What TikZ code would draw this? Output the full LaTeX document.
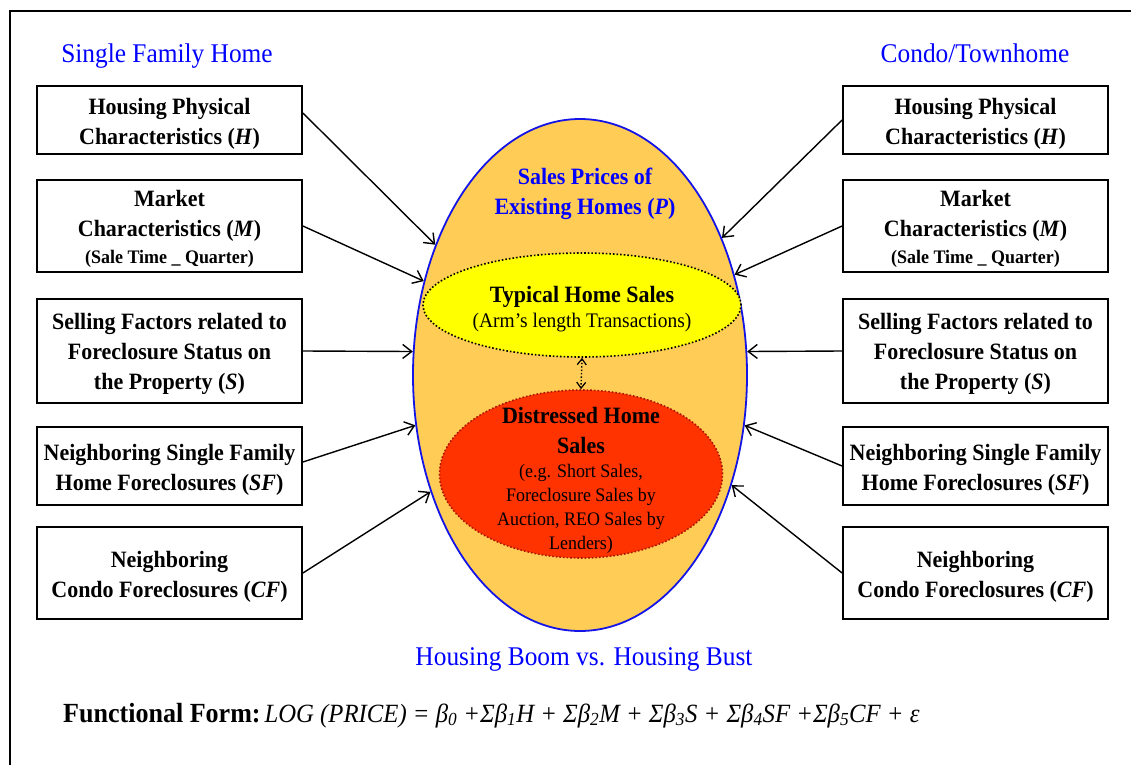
\documentclass[tikz,border=0pt]{standalone}
\usepackage{fontspec}
\setmainfont[FakeStretch=0.94]{Liberation Serif}
\usetikzlibrary{shapes.geometric,arrows.meta}
\definecolor{headblue}{RGB}{0,0,255}
\definecolor{ringblue}{RGB}{20,20,230}
\definecolor{shellfill}{RGB}{255,204,85}
\definecolor{typyellow}{RGB}{255,255,0}
\definecolor{distred}{RGB}{255,51,0}
\definecolor{distedge}{RGB}{170,20,0}
% extra room above the first line of a factor box
\newcommand\padtop{\rule{0pt}{23pt}}
\begin{document}
\begin{tikzpicture}[x=1pt,y=-1pt,
  factor/.style={draw=black, line width=1.8pt, fill=white, minimum width=265pt,
    align=center, inner sep=0pt, font=\bfseries\fontsize{23.4}{30}\selectfont},
  link/.style={line width=1.4pt, -{Straight Barb[length=9pt,width=14pt,line width=1.4pt]}},
  heading/.style={text=headblue, font=\fontsize{27}{30}\selectfont, anchor=base},
  bigtext/.style={font=\bfseries\fontsize{23.4}{30}\selectfont, align=center},
  smalltext/.style={font=\fontsize{19.1}{24}\selectfont, align=center}
]
\useasboundingbox (0,0) rectangle (1131,765);
% frame edges
\draw[line width=2.5pt] (10,765) -- (10,11) -- (1131,11);

% headings
\node[heading] (hsf) at (167,63) {Single Family Home};
\node[heading] (hct) at (975,63) {Condo/Townhome};
\node[heading] (hbb) at (584,665) {Housing Boom vs. Housing Bust};

% central price ellipse and its two sub-markets
\node[ellipse, draw=ringblue, line width=1.8pt, fill=shellfill, minimum width=334pt,
  minimum height=512pt, inner sep=0pt] (shell) at (580,375) {};
\node[ellipse, draw=black, dotted, line width=1.6pt, fill=typyellow, minimum width=318pt,
  minimum height=104pt, inner sep=0pt] (typical) at (582,305) {};
\node[ellipse, draw=distedge, dotted, line width=1.6pt, fill=distred, minimum width=283pt,
  minimum height=168pt, inner sep=0pt] (distress) at (581,474) {};

\node[bigtext, text=headblue] (ptitle) at (585,194) {Sales Prices of\\Existing Homes (\textit{P})};
\node[bigtext, anchor=base] (ttitle) at (582,302) {Typical Home Sales};
\node[font=\fontsize{20.7}{24}\selectfont, anchor=base] (tnote) at (582,327) {(Arm’s length Transactions)};
\node[bigtext] (dtitle) at (581,430) {Distressed Home\\Sales};
\node[smalltext] (dnote) at (581,509) {(e.g. Short Sales,\\Foreclosure Sales by\\Auction, REO Sales by\\Lenders)};

\draw[dotted, line width=1.4pt, {Straight Barb[length=6pt,width=9pt,line width=1.2pt]}-{Straight Barb[length=6pt,width=9pt,line width=1.2pt]}]
  (typical.south) -- (distress.north);

% single family factors
\node[factor, minimum height=68pt] (lh) at (169.5,120) {\padtop Housing Physical\\Characteristics (\textit{H})};
\node[factor, minimum height=92pt] (lm) at (169.5,226) {\padtop Market\\Characteristics (\textit{M})\\[-3pt]{\fontsize{19.1}{24}\selectfont(Sale Time \_ Quarter)}};
\node[factor, minimum height=104pt] (ls) at (169.5,351) {\padtop Selling Factors related to\\Foreclosure Status on\\the Property (\textit{S})};
\node[factor, minimum height=78pt] (lsf) at (169.5,466) {\padtop Neighboring Single Family\\Home Foreclosures (\textit{SF})};
\node[factor, minimum height=92pt] (lcf) at (169.5,573) {\padtop Neighboring\\Condo Foreclosures (\textit{CF})};

% condo / townhome factors
\node[factor, minimum height=68pt] (rh) at (975.5,120) {\padtop Housing Physical\\Characteristics (\textit{H})};
\node[factor, minimum height=92pt] (rm) at (975.5,226) {\padtop Market\\Characteristics (\textit{M})\\[-3pt]{\fontsize{19.1}{24}\selectfont(Sale Time \_ Quarter)}};
\node[factor, minimum height=104pt] (rs) at (975.5,351) {\padtop Selling Factors related to\\Foreclosure Status on\\the Property (\textit{S})};
\node[factor, minimum height=78pt] (rsf) at (975.5,466) {\padtop Neighboring Single Family\\Home Foreclosures (\textit{SF})};
\node[factor, minimum height=92pt] (rcf) at (975.5,573) {\padtop Neighboring\\Condo Foreclosures (\textit{CF})};

% influences on the price ellipse
\draw[link] ([yshift=7pt]lh.east) -- (shell.138);
\draw[link] (lm.east) -- (shell.149);
\draw[link] (ls.east) -- (shell.172);
\draw[link] ([yshift=4pt]lsf.east) -- (shell.197);
\draw[link] (lcf.east) -- (shell.218);
\draw[link] (rh.west) -- (shell.44);
\draw[link] (rm.west) -- (shell.33);
\draw[link] (rs.west) -- (shell.8);
\draw[link] (rsf.west) -- (shell.-17);
\draw[link] (rcf.west) -- (shell.-36);

% functional form
\node[anchor=base west, inner sep=0pt] (form) at (63,722)
  {{\bfseries\fontsize{27.7}{30}\selectfont Functional Form:}\hspace{4pt}{\itshape\fontsize{26.3}{30}\selectfont LOG (PRICE) = β\textsubscript{0} +Σβ\textsubscript{1}H + Σβ\textsubscript{2}M + Σβ\textsubscript{3}S + Σβ\textsubscript{4}SF +Σβ\textsubscript{5}CF + ε}};
\end{tikzpicture}
\end{document}
